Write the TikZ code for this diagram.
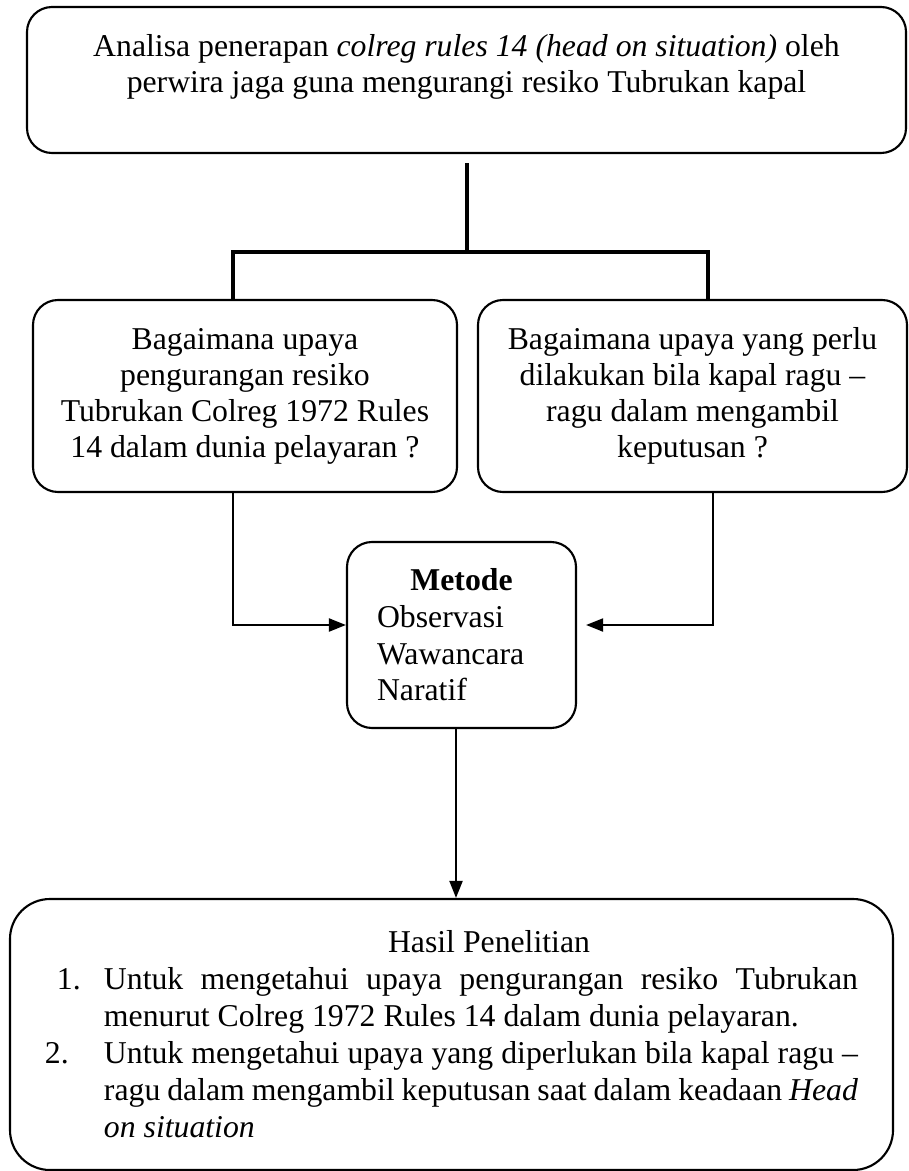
\documentclass[tikz,border=0pt]{standalone}
\usepackage{fontspec}
\setmainfont{Liberation Serif}
\usepackage{tikz}
\usetikzlibrary{arrows.meta, calc}

\begin{document}
\begin{tikzpicture}[x=0.4pt, y=-0.4pt,
    kotak/.style={draw, line width=0.85pt, rounded corners=10pt, inner sep=0pt,
      font=\fontsize{12.7pt}{14.4pt}\selectfont, align=center},
    tebal/.style={line width=1.4pt},
    panah/.style={line width=0.8pt, -{Triangle[length=6.8pt, width=5.2pt]}}]
  \useasboundingbox (0,0) rectangle (908,1171);
  % Judul
  \node[kotak, minimum width=351.6pt, minimum height=58.4pt, text depth=13pt] (judul) at (466.5,80)
    {Analisa penerapan \textit{colreg rules 14 (head on situation)} oleh\\
     perwira jaga guna mengurangi resiko Tubrukan kapal};
  % Rumusan masalah
  \node[kotak, minimum width=169.6pt, minimum height=76.8pt] (tanya1) at (245,396)
    {Bagaimana upaya\\ pengurangan resiko\\ Tubrukan Colreg 1972 Rules\\ 14 dalam dunia pelayaran ?};
  \node[kotak, minimum width=171.6pt, minimum height=76.8pt] (tanya2) at (692.5,396)
    {Bagaimana upaya yang perlu\\ dilakukan bila kapal ragu --\\ ragu dalam mengambil\\ keputusan ?};
  % Metode
  \node[kotak, minimum width=91.6pt, minimum height=74.4pt, text width=67.6pt, align=left,
    font=\fontsize{12.7pt}{14.7pt}\selectfont] (metode) at (461.5,635)
    {\hfill\textbf{Metode}\hfill\null\\ Observasi\\ Wawancara\\ Naratif};
  % Hasil
  \node[kotak, rounded corners=16pt, minimum width=353.2pt, minimum height=108.4pt,
    text width=325.2pt, align=justify, font=\fontsize{12.7pt}{14.8pt}\selectfont] (hasil) at (451.5,1034.5)
    {{\centering\hspace*{30pt}Hasil Penelitian\par}
     \noindent\hangindent=23.6pt\hangafter=1
     \makebox[23.6pt][l]{\hspace*{4.8pt}1.}Untuk mengetahui upaya pengurangan resiko Tubrukan\linebreak
     menurut Colreg 1972 Rules 14 dalam dunia pelayaran.\par
     \noindent\hangindent=23.6pt\hangafter=1
     \makebox[23.6pt][l]{2.}Untuk mengetahui upaya yang diperlukan bila kapal ragu --\linebreak
     ragu dalam mengambil keputusan saat dalam keadaan \textit{Head}\linebreak
     \textit{on situation}\par};

  % Garis penghubung
  \coordinate (cabang) at (467,252);
  \coordinate (kiri) at (233,252);
  \coordinate (kanan) at (708,252);
  \draw[tebal, shorten <=3.6pt] (judul.south -| cabang) -- (cabang);
  \draw[tebal] (kiri |- tanya1.north) -- (kiri) -- (kanan) -- (kanan |- tanya2.north);
  \draw[panah] (kiri |- tanya1.south) |- ([yshift=4pt]metode.west);
  \draw[panah, shorten >=3.6pt] ([xshift=2pt]kanan |- tanya2.south) |- ([yshift=4pt]metode.east);
  \draw[panah] ([xshift=-2.2pt]metode.south) -- ([xshift=-2.2pt]metode.south |- hasil.north);
\end{tikzpicture}
\end{document}
